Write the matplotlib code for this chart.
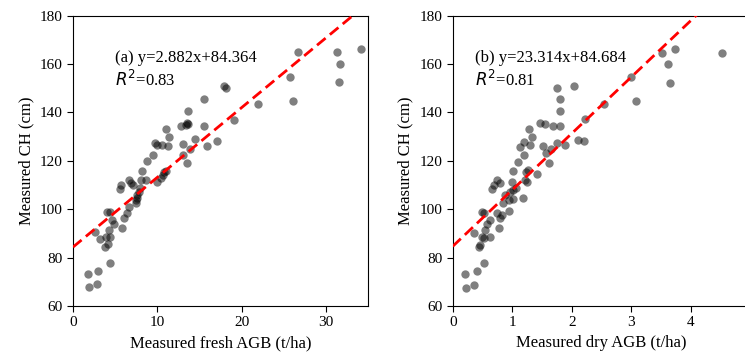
import matplotlib
matplotlib.use("Agg")
import matplotlib.pyplot as plt
import numpy as np

plt.rcParams["font.family"] = ["Liberation Serif", "DejaVu Serif"]
plt.rcParams["mathtext.fontset"] = "dejavusans"

# (a) fresh AGB (t/ha) vs canopy height (cm)
fresh_agb = [1.75, 1.9, 2.94, 2.86, 2.66, 3.17, 3.85, 3.97, 4.37, 4.25, 4.05, 4.37,
             4.64, 4.84, 4.33, 5.83, 6.03, 6.35, 6.63, 5.56, 5.71, 6.63, 6.9, 7.14,
             7.42, 7.62, 7.82, 8.0, 7.5, 8.1, 8.2, 8.6, 8.8, 9.5, 9.7, 10.0, 10.6,
             10.0, 10.4, 11.0, 10.7, 11.0, 11.4, 11.3, 12.86, 13.6, 13.4, 13.6, 13.1,
             13.0, 13.5, 13.9, 14.5, 15.5, 15.5, 15.95, 17.1, 17.86, 18.2, 19.05,
             21.9, 25.8, 26.15, 26.7, 31.3, 31.7, 31.5, 34.2, 4.1, 7.6, 10.8, 13.5]
fresh_ch = [73.3, 67.7, 74.5, 69.0, 90.5, 87.6, 84.5, 88.7, 88.7, 91.4, 99.0, 99.0,
            95.6, 93.9, 77.7, 92.4, 96.3, 98.3, 101.0, 108.2, 110.0, 112.1, 110.7, 110.0,
            103.8, 105.9, 107.3, 108.6, 102.4, 112.1, 116.0, 112.1, 119.8, 122.4, 127.5,
            126.6, 126.6, 111.4, 112.8, 116.0, 114.2, 133.0, 130.0, 126.3, 134.5, 135.2,
            134.8, 140.7, 127.0, 122.4, 119.0, 124.8, 128.9, 145.7, 134.4, 126.1, 128.3,
            151.1, 150.1, 136.9, 143.4, 154.7, 144.9, 164.8, 164.8, 159.9, 152.5, 166.2,
            85.5, 104.5, 115.5, 135.5]

# (b) dry AGB (t/ha) vs canopy height (cm)
dry_agb = [0.2, 0.22, 0.35, 0.4, 0.53, 0.35, 0.44, 0.46, 0.49, 0.52, 0.54, 0.58, 0.62,
           0.62, 0.49, 0.52, 0.66, 0.7, 0.74, 0.8, 0.77, 0.8, 0.82, 0.74, 0.85, 0.88,
           0.94, 0.94, 0.96, 1.02, 1.01, 0.99, 1.06, 1.02, 1.1, 1.13, 1.18, 1.19, 1.2,
           1.22, 1.23, 1.24, 1.3, 1.29, 1.33, 1.27, 1.41, 1.47, 1.51, 1.55, 1.57, 1.61,
           1.65, 1.69, 1.75, 1.75, 1.8, 1.8, 1.8, 1.89, 2.04, 2.1, 2.21, 2.23, 2.55,
           3.0, 3.08, 3.51, 3.61, 3.65, 3.74, 4.53]
dry_ch = [73.3, 67.6, 68.7, 74.5, 77.8, 90.3, 84.5, 85.2, 88.7, 88.0, 91.4, 93.9, 95.6,
          88.4, 98.9, 98.6, 108.2, 110.0, 112.1, 111.0, 92.1, 96.3, 97.6, 98.3, 102.4,
          105.9, 103.8, 99.4, 107.3, 104.1, 108.0, 111.4, 108.6, 115.8, 119.7, 125.9,
          104.5, 122.4, 127.9, 112.1, 115.5, 111.4, 126.6, 133.0, 130.0, 116.2, 114.4,
          135.8, 126.3, 135.2, 123.1, 119.3, 124.8, 134.4, 127.5, 150.2, 145.4, 140.7,
          134.4, 126.4, 150.9, 128.6, 128.2, 137.2, 143.4, 154.7, 144.9, 164.7, 159.9,
          152.3, 166.2, 164.7]

panels = [
    (fresh_agb, fresh_ch, 2.882, 84.364, 0.83, "(a)", "Measured fresh AGB (t/ha)",
     (0, 35), [0, 10, 20, 30], 5.0),
    (dry_agb, dry_ch, 23.314, 84.684, 0.81, "(b)", "Measured dry AGB (t/ha)",
     (0, 5), [0, 1, 2, 3, 4], 0.38),
]
# the right panel runs past the figure edge, as in the cropped original
positions = [[0.098, 0.1404, 0.396, 0.8155], [0.6077, 0.1404, 0.3993, 0.8155]]

fig = plt.figure(figsize=(7.45, 3.56), dpi=100)
for pos, (x, y, k, b, r2, tag, xlabel, xlim, xticks, tx) in zip(positions, panels):
    ax = fig.add_axes(pos)
    ax.scatter(x, y, s=36, color="k", alpha=0.5, linewidths=0, zorder=2)
    xs = np.linspace(xlim[0], xlim[1], 200)
    ax.plot(xs, k * xs + b, color="red", linestyle=(0, (4, 2)), linewidth=2, zorder=3)
    ax.set_xlim(*xlim)
    ax.set_ylim(60, 180)
    ax.set_xticks(xticks)
    ax.set_yticks(range(60, 181, 20))
    ax.tick_params(direction="out", length=4, labelsize=11)
    ax.set_xlabel(xlabel, fontsize=12)
    ax.set_ylabel("Measured CH (cm)", fontsize=12)
    ax.text(tx, 162.5, f"{tag} y={k:.3f}x+{b:.3f}", fontsize=12, va="center")
    ax.text(tx, 153.4, f"$R^2$=" + f"{r2:.2f}", fontsize=12, va="center")

fig.savefig("out.png", dpi=100)
